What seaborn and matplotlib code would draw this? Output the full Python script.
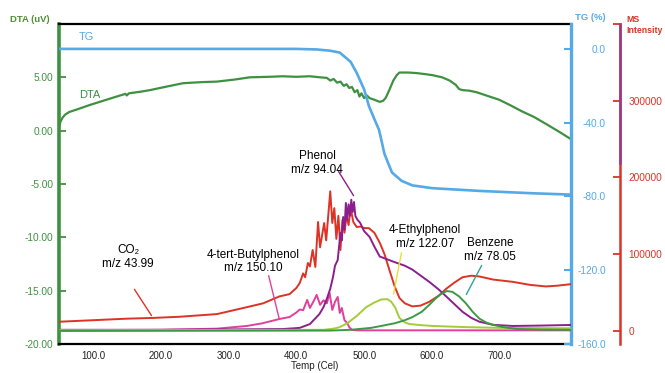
import matplotlib
matplotlib.use("Agg")
import matplotlib.pyplot as plt
import seaborn as sns

# --- colours ---
C_DTA = "#3e9140"
C_TG = "#55a9e6"
C_MS = "#dc3326"
C_PHENOL = "#8c1f8e"
C_BUTYL = "#e0409a"
C_ETHYL = "#a6cb3a"
C_BENZ = "#3c9a44"

# --- TG (%) ---
tg_temp = [50, 400, 430, 450, 464, 480, 489, 500, 507, 515, 522, 530, 541, 555, 571, 600, 670, 750, 805]
tg_val = [0.0, 0.0, -0.3, -1.0, -2.0, -7.0, -13.0, -22.0, -31.0, -38.0, -44.0, -57.0, -67.0, -71.5, -74.0, -75.5, -77.0, -78.3, -79.0]

# --- DTA (uV) ---
dta_temp = [50, 52, 55, 59, 65, 77, 95, 110, 130, 148, 150, 153, 170, 184, 210, 233, 260, 283, 310,
            331, 360, 380, 400, 420, 435, 445, 450, 455, 460, 465, 470, 474, 478, 482, 486, 490, 493,
            496, 500, 504, 508, 515, 523, 528, 532, 537, 543, 548, 552, 565, 577, 590, 601, 615, 626,
            635, 640, 645, 655, 666, 680, 699, 715, 733, 750, 773, 790, 805]
dta_val = [0.3, 0.8, 1.2, 1.5, 1.75, 2.0, 2.4, 2.7, 3.1, 3.45, 3.3, 3.5, 3.65, 3.8, 4.15, 4.45, 4.55, 4.6, 4.8,
           5.0, 5.05, 5.1, 5.05, 5.1, 5.0, 4.95, 4.7, 4.85, 4.5, 4.6, 4.2, 4.35, 4.0, 4.1, 3.6, 3.8, 3.2,
           3.5, 3.05, 3.3, 3.05, 2.9, 2.7, 2.8, 3.1, 3.8, 4.7, 5.2, 5.45, 5.45, 5.4, 5.3, 5.2, 5.0, 4.7,
           4.3, 3.9, 3.8, 3.75, 3.6, 3.3, 2.9, 2.4, 1.8, 1.3, 0.45, -0.2, -0.8]

# --- MS intensity: CO2 m/z 43.99 ---
co2_temp = [50, 100, 150, 189, 228, 283, 327, 351, 375, 390, 400, 405, 410, 413, 417, 420, 424, 428,
            432, 435, 438, 441, 444, 447, 450, 453, 456, 459, 462, 465, 468, 471, 474, 477, 480, 484,
            489, 495, 500, 507, 515, 523, 530, 537, 545, 552, 560, 571, 583, 596, 610, 621, 633, 645,
            658, 670, 690, 719, 745, 768, 785, 805]
co2_val = [12000, 14000, 16000, 17000, 18500, 22000, 31000, 36000, 45000, 48000, 56000, 62500, 75000, 70000,
           88600, 84000, 105500, 83400, 142000, 109000, 125000, 140700, 118000, 150000, 182000, 140700,
           160000, 120000, 150000, 105500, 144600, 128000, 150000, 138000, 160000, 142000,
           135500, 136000, 134000, 134000, 128000, 115000, 100000, 80000, 58000, 43000, 36000, 32000,
           33000, 38000, 46000, 55000, 63000, 70000, 72000, 71000, 67000, 64000, 60000, 58000, 59000, 61000]

# --- Phenol m/z 94.04 ---
phenol_temp = [50, 200, 300, 380, 405, 420, 434, 440, 445, 450, 454, 457, 461, 463, 465, 467, 469, 471,
               473, 475, 477, 479, 481, 483, 485, 487, 490, 494, 500, 508, 515, 523, 535, 547, 560, 571,
               585, 596, 610, 621, 633, 645, 658, 670, 690, 719, 760, 805]
phenol_val = [1500, 1500, 2000, 2500, 4000, 9000, 22000, 31000, 42000, 55000, 70000, 85000, 92500, 110000,
              127700, 118000, 148500, 132000, 166800, 145000, 165000, 150000, 171000, 155000, 168000,
              150000, 145000, 141000, 130000, 122500, 110000, 97000, 93000, 89000, 85000, 80000,
              71000, 64000, 54000, 45000, 35000, 25000, 17000, 12000, 8000, 6500, 7000, 7800]

# --- 4-tert-Butylphenol m/z 150.10 ---
butyl_temp = [50, 200, 283, 327, 350, 375, 390, 400, 405, 410, 416, 420, 425, 430, 435, 440, 445, 449,
              453, 457, 461, 464, 467, 471, 475, 478, 482, 490, 805]
butyl_val = [1000, 1500, 3000, 6500, 10000, 15600, 18200, 24000, 28000, 27000, 40400, 30000, 38000, 47000,
             34000, 40000, 36000, 49700, 27300, 38000, 44300, 23400, 30000, 14000, 10400, 5000, 1300, 800, 800]

# --- 4-Ethylphenol m/z 122.07 ---
ethyl_temp = [50, 440, 455, 464, 475, 489, 503, 515, 525, 534, 540, 546, 552, 560, 567, 585, 601, 650, 699, 805]
ethyl_val = [1000, 1500, 3000, 5000, 10000, 19500, 31000, 37000, 41000, 41500, 38000, 30000, 17000, 11000,
             9000, 7500, 6500, 5000, 4000, 3500]

# --- Benzene m/z 78.05 ---
benz_temp = [50, 450, 480, 510, 522, 545, 560, 571, 585, 596, 605, 613, 622, 630, 640, 650, 660, 670, 680,
             690, 705, 724, 760, 805]
benz_val = [0, 500, 1500, 4000, 6000, 10000, 14000, 18000, 25000, 34000, 42000, 48000, 52000, 51000, 45000,
            36000, 25000, 16000, 11000, 8000, 5000, 2600, 1800, 1500]

dta_ticks = [-20, -15, -10, -5, 0, 5]
tg_ticks = [-160, -120, -80, -40, 0]
ms_ticks = [0, 100000, 200000, 300000, 400000]
x_ticks = [100, 200, 300, 400, 500, 600, 700]

sns.set_style("white")
plt.rcParams["font.family"] = ["Liberation Sans", "DejaVu Sans"]

W, H = 665, 373
fig = plt.figure(figsize=(W / 100, H / 100), dpi=100)
L, R, T, B = 59, 571, 24, 344
ax = fig.add_axes([L / W, 1 - B / H, (R - L) / W, (B - T) / H])
ax2 = ax.twinx()
ax3 = ax.twinx()
ax4 = ax.twinx()

# DTA
sns.lineplot(x=dta_temp, y=dta_val, ax=ax, color=C_DTA, linewidth=1.6, sort=False)
ax.set_xlim(50, 805)
ax.set_ylim(-20, 10)
ax.set_yticks(dta_ticks)
ax.set_yticklabels([f"{v:.2f}" for v in dta_ticks])
ax.set_xticks(x_ticks)
ax.set_xticklabels([f"{v:.1f}" for v in x_ticks])
ax.tick_params(axis="y", direction="in", length=5, width=1.3, color=C_DTA,
               labelcolor=C_DTA, labelsize=7.3, pad=4)
ax.tick_params(axis="x", direction="in", length=5, width=1.2, color="black",
               labelcolor="#222222", labelsize=7, pad=5)
ax.spines["left"].set_color(C_DTA)
ax.spines["left"].set_linewidth(2.6)
ax.spines["top"].set_color("black")
ax.spines["top"].set_linewidth(1.6)
ax.spines["bottom"].set_color("black")
ax.spines["bottom"].set_linewidth(1.6)
ax.spines["right"].set_visible(False)
ax.set_xlabel("")
ax.set_ylabel("")

# TG
sns.lineplot(x=tg_temp, y=tg_val, ax=ax2, color=C_TG, linewidth=1.9, sort=False)
ax2.set_ylim(-160, 13.5)
ax2.set_yticks(tg_ticks)
ax2.set_yticklabels([f"{v:.1f}" for v in tg_ticks])
ax2.tick_params(axis="y", direction="in", length=5, width=1.5, color=C_TG,
                labelcolor=C_TG, labelsize=7.3, pad=25)
for lbl in ax2.get_yticklabels():
    lbl.set_horizontalalignment("right")
for s in ["left", "top", "bottom"]:
    ax2.spines[s].set_visible(False)
ax2.spines["right"].set_color(C_TG)
ax2.spines["right"].set_linewidth(2.4)
ax2.set_ylabel("")

# MS curves
ms_pos = 1 + (620 - R) / (R - L)
for tx, ty, col in [(co2_temp, co2_val, C_MS), (butyl_temp, butyl_val, C_BUTYL),
                    (phenol_temp, phenol_val, C_PHENOL), (ethyl_temp, ethyl_val, C_ETHYL),
                    (benz_temp, benz_val, C_BENZ)]:
    sns.lineplot(x=tx, y=ty, ax=ax3, color=col, linewidth=1.4, sort=False)
ax3.set_ylim(-17000, 400000)
ax3.set_yticks(ms_ticks)
ax3.set_yticklabels([f"{v:d}" if v < 400000 else "" for v in ms_ticks])
ax3.tick_params(axis="y", direction="in", length=5, width=1.3, color=C_MS,
                labelcolor=C_MS, labelsize=7.3, pad=6)
for s in ["left", "top", "bottom"]:
    ax3.spines[s].set_visible(False)
ax3.spines["right"].set_position(("axes", ms_pos))
ax3.spines["right"].set_color(C_MS)
ax3.spines["right"].set_linewidth(1.8)
ax3.set_ylabel("")

# purple upper part of the MS axis
ax4.set_ylim(-17000, 400000)
ax4.set_yticks([])
for s in ["left", "top", "bottom"]:
    ax4.spines[s].set_visible(False)
ax4.spines["right"].set_position(("axes", ms_pos))
ax4.spines["right"].set_color("#9a3a8a")
ax4.spines["right"].set_linewidth(1.8)
ax4.spines["right"].set_bounds(219000, 400000)

# labels for the MS curves
ann = dict(fontsize=8.5, color="black", ha="center", va="center", linespacing=1.15)
ax3.annotate("", xy=(486.5, 173300), xytext=(460, 211000),
             arrowprops=dict(arrowstyle="-", color=C_PHENOL, lw=1.0))
ax3.text(430.4, 219000, "Phenol\nm/z 94.04", **ann)
ax3.annotate("", xy=(542.5, 44300), xytext=(555.8, 105500),
             arrowprops=dict(arrowstyle="-", color="#e6e03a", lw=1.0))
ax3.text(589.7, 122500, "4-Ethylphenol\nm/z 122.07", **ann)
ax3.annotate("", xy=(648.7, 44300), xytext=(675.2, 88600),
             arrowprops=dict(arrowstyle="-", color="#2ea3a0", lw=1.0))
ax3.text(685.6, 105500, "Benzene\nm/z 78.05", **ann)
ax3.annotate("", xy=(375.9, 11700), xytext=(358.2, 75600),
             arrowprops=dict(arrowstyle="-", color=C_BUTYL, lw=1.0))
ax3.text(336, 90500, "4-tert-Butylphenol\nm/z 150.10", **ann)
ax3.annotate("", xy=(188.6, 17000), xytext=(159, 57300),
             arrowprops=dict(arrowstyle="-", color=C_MS, lw=1.0))
ax3.text(151.7, 96400, "CO\u2082\nm/z 43.99", **ann)

# curve names for TG / DTA
ax.text(0.054, 0.959, "TG", transform=ax.transAxes, color=C_TG, fontsize=8,
        ha="center", va="center")
ax.text(0.061, 0.778, "DTA", transform=ax.transAxes, color=C_DTA, fontsize=8,
        ha="center", va="center")

# axis titles
fig.text(30 / W, 1 - 20 / H, "DTA (uV)", color="#4f8f2f", fontsize=6.8, fontweight="bold",
         ha="center", va="center")
fig.text(590 / W, 1 - 18 / H, "TG (%)", color=C_TG, fontsize=6.8, fontweight="bold",
         ha="center", va="center")
fig.text(626 / W, 1 - 25 / H, "MS\nIntensity", color=C_MS, fontsize=6.3, fontweight="bold",
         ha="left", va="center", linespacing=1.3)
fig.text(315 / W, 1 - 366 / H, "Temp (Cel)", color="#222222", fontsize=7, ha="center", va="center")

fig.savefig("out.png", dpi=100)
